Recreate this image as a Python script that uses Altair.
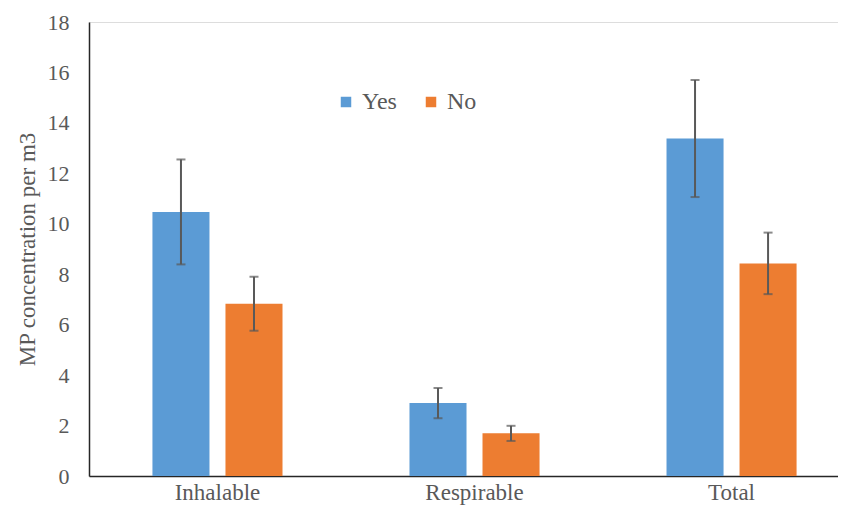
import altair as alt
import pandas as pd

categories = ["Inhalable", "Respirable", "Total"]
groups = ["Yes", "No"]
yes_values = [10.47, 2.89, 13.38]
no_values = [6.83, 1.69, 8.43]
yes_err = [2.08, 0.60, 2.32]
no_err = [1.07, 0.30, 1.22]

rows = []
for i, c in enumerate(categories):
    rows.append({"cat": c, "grp": "Yes", "val": yes_values[i], "lo": yes_values[i] - yes_err[i], "hi": yes_values[i] + yes_err[i]})
    rows.append({"cat": c, "grp": "No", "val": no_values[i], "lo": no_values[i] - no_err[i], "hi": no_values[i] + no_err[i]})
df = pd.DataFrame(rows)

FONT = "Liberation Serif"
TXT = "#595959"

x = alt.X("cat:N", sort=categories, title=None,
          scale=alt.Scale(paddingInner=0.494, paddingOuter=0.204, align=0.605),
          axis=alt.Axis(labelAngle=0, ticks=False, labelPadding=5, labelFontSize=23,
                        labelFont=FONT, labelColor=TXT, domainColor="#262626", domainWidth=1.5))
xo = alt.XOffset("grp:N", sort=groups, scale=alt.Scale(paddingInner=0.219, paddingOuter=0))

bars = alt.Chart(df).mark_bar().encode(
    x=x, xOffset=xo,
    y=alt.Y("val:Q", title="MP concentration per m3",
            scale=alt.Scale(domain=[0, 18], nice=False),
            axis=alt.Axis(values=list(range(0, 19, 2)), grid=False, ticks=False, labelPadding=20,
                          labelFontSize=22, labelFont=FONT, labelColor=TXT,
                          titleFont=FONT, titleFontSize=23, titleColor=TXT, titleFontWeight="normal",
                          titlePadding=8, domainColor="#262626", domainWidth=1.5)),
    color=alt.Color("grp:N", sort=groups, title=None,
                    scale=alt.Scale(domain=groups, range=["#5B9BD5", "#ED7D31"]),
                    legend=alt.Legend(orient="none", legendX=245, legendY=68, direction="horizontal",
                                      symbolType="square", symbolSize=110, symbolStrokeWidth=0,
                                      labelFont=FONT, labelFontSize=24, labelColor=TXT,
                                      labelOffset=4, columnPadding=22)),
)

rule = alt.Chart(df).mark_rule(color="#595959", strokeWidth=2).encode(
    x=x, xOffset=xo, y="lo:Q", y2="hi:Q")
cap_lo = alt.Chart(df).mark_tick(color="#595959", thickness=2, size=9).encode(
    x=x, xOffset=xo, y="lo:Q")
cap_hi = alt.Chart(df).mark_tick(color="#595959", thickness=2, size=9).encode(
    x=x, xOffset=xo, y="hi:Q")

chart = alt.layer(bars, rule, cap_lo, cap_hi).properties(
    width=749, height=454,
    autosize=alt.AutoSizeParams(type="none"),
    padding={"left": 81, "top": 14, "right": 0, "bottom": 31},
).configure_view(stroke=None).configure(background="white")

chart.save("out.html", embed_options={"renderer": "svg", "actions": False})
